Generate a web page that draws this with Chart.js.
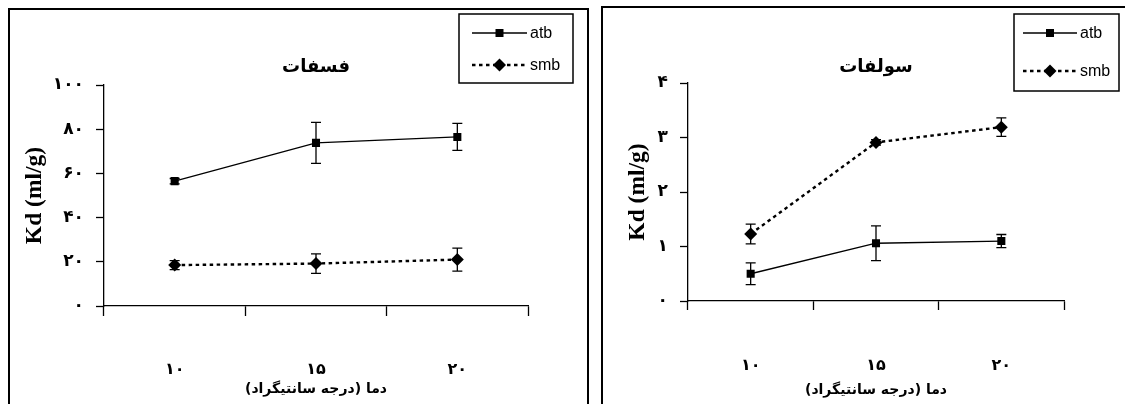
<!DOCTYPE html>
<html>
<head>
<meta charset="utf-8">
<script src="https://cdn.jsdelivr.net/npm/chart.js@4.4.0/dist/chart.umd.min.js"></script>
<style>
  body { margin: 0; background: #fff; width: 1125px; height: 404px; overflow: hidden; position: relative; }
  .frame { position: absolute; border: 2px solid #000; box-sizing: border-box; }
  #f1 { left: 8px; top: 8px; width: 581px; height: 420px; }
  #f2 { left: 601px; top: 6px; width: 540px; height: 420px; }
  canvas { position: absolute; top: 0; }
  #c1 { left: 0; }
  #c2 { left: 595px; }
</style>
</head>
<body>
<div class="frame" id="f1"></div>
<div class="frame" id="f2"></div>
<canvas id="c1" width="595" height="404"></canvas>
<canvas id="c2" width="530" height="404"></canvas>
<script>
// ==== Data ====
const categories = ["۱۰", "۱۵", "۲۰"];
const seriesNames = ["atb", "smb"];

// phosphate
const phosAtb = [56.5, 73.8, 76.5];
const phosAtbErr = [1.2, 9.3, 6.1];
const phosSmb = [18.5, 19.2, 21.0];
const phosSmbErr = [2.0, 4.4, 5.2];
const phosTicks = ["۰", "۲۰", "۴۰", "۶۰", "۸۰", "۱۰۰"];

// sulfate
const sulfAtb = [0.50, 1.06, 1.10];
const sulfAtbErr = [0.20, 0.32, 0.12];
const sulfSmb = [1.23, 2.91, 3.19];
const sulfSmbErr = [0.18, 0.05, 0.17];
const sulfTicks = ["۰", "۱", "۲", "۳", "۴"];

const xTitle = "\u200Fدما (درجه سانتیگراد)\u200F";
const yTitle = "Kd (ml/g)";
const FA = "'DejaVu Sans', sans-serif";

// ==== Plugins ====
const errorBars = {
  id: "errorBars",
  afterDatasetsDraw(chart) {
    const { ctx } = chart;
    const y = chart.scales.y;
    chart.data.datasets.forEach((ds, i) => {
      chart.getDatasetMeta(i).data.forEach((pt, j) => {
        const e = ds.errors[j];
        const top = y.getPixelForValue(ds.data[j] + e);
        const bot = y.getPixelForValue(ds.data[j] - e);
        ctx.save();
        ctx.strokeStyle = "#000";
        ctx.lineWidth = 1.3;
        ctx.beginPath();
        ctx.moveTo(pt.x, top); ctx.lineTo(pt.x, bot);
        ctx.moveTo(pt.x - 5, top); ctx.lineTo(pt.x + 5, top);
        ctx.moveTo(pt.x - 5, bot); ctx.lineTo(pt.x + 5, bot);
        ctx.stroke();
        ctx.restore();
      });
    });
  }
};

// boxed legend with line + marker samples
const boxLegend = {
  id: "boxLegend",
  afterDraw(chart, args, o) {
    const { ctx } = chart;
    ctx.save();
    ctx.strokeStyle = "#000";
    ctx.lineWidth = 1.5;
    ctx.strokeRect(o.x, o.y, o.w, o.h);
    chart.data.datasets.forEach((ds, i) => {
      const ry = o.rows[i];
      ctx.beginPath();
      ctx.lineWidth = ds.borderWidth;
      ctx.setLineDash(ds.borderDash || []);
      ctx.moveTo(o.lineX0, ry); ctx.lineTo(o.lineX1, ry);
      ctx.stroke();
      ctx.setLineDash([]);
      const mx = (o.lineX0 + o.lineX1) / 2;
      ctx.fillStyle = "#000";
      ctx.beginPath();
      if (ds.pointStyle === "rect") {
        ctx.rect(mx - 4, ry - 4, 8, 8);
      } else {
        ctx.moveTo(mx, ry - 6.5); ctx.lineTo(mx + 6.5, ry);
        ctx.lineTo(mx, ry + 6.5); ctx.lineTo(mx - 6.5, ry);
        ctx.closePath();
      }
      ctx.fill();
      ctx.font = "16px 'Liberation Sans', Arial, sans-serif";
      ctx.textBaseline = "middle";
      ctx.textAlign = "left";
      ctx.fillText(ds.label, o.lineX1 + 3, ry + 1);
    });
    ctx.restore();
  }
};

// ==== Chart builder ====
function makeChart(id, cfg) {
  const datasets = [
    { label: seriesNames[0], data: cfg.atb, errors: cfg.atbErr, borderColor: "#000", backgroundColor: "#000",
      borderWidth: 1.3, pointStyle: "rect", pointRadius: 5.7, pointBorderWidth: 0, tension: 0 },
    { label: seriesNames[1], data: cfg.smb, errors: cfg.smbErr, borderColor: "#000", backgroundColor: "#000",
      borderWidth: 2.4, borderDash: [3.5, 3.5], pointStyle: "rectRot", pointRadius: 6.5, pointBorderWidth: 0, tension: 0 }
  ];
  return new Chart(document.getElementById(id), {
    type: "line",
    data: { labels: categories, datasets },
    plugins: [errorBars, boxLegend],
    options: {
      responsive: false,
      animation: false,
      layout: { padding: { left: cfg.padLeft, right: cfg.padRight, top: 0, bottom: cfg.padBottom } },
      plugins: {
        legend: { display: false },
        tooltip: { enabled: false },
        title: {
          display: true, text: cfg.title, fullSize: false, color: "#000",
          font: { family: FA, size: 18, weight: "bold" },
          padding: { top: 57, bottom: cfg.titleBottom }
        },
        boxLegend: cfg.legend
      },
      scales: {
        x: {
          offset: true,
          grid: { offset: true, drawOnChartArea: false, tickLength: cfg.xTick, color: "#000", tickWidth: 1.3 },
          border: { color: "#000", width: 1.3 },
          ticks: { color: "#000", padding: cfg.xPad, font: { family: FA, size: 16, weight: "bold" } },
          title: { display: true, text: xTitle, color: "#000", padding: { top: 0, bottom: 0 },
                   font: { family: FA, size: 14, weight: "bold" } },
          afterFit: (s) => { s.height = cfg.xHeight; }
        },
        y: {
          min: 0, max: cfg.max,
          grid: { drawOnChartArea: false, tickLength: 8, color: "#000", tickWidth: 1.3 },
          border: { color: "#000", width: 1.3 },
          ticks: { stepSize: cfg.step, color: "#000", padding: 12,
                   font: { family: FA, size: 17, weight: "bold" },
                   callback: (v, i) => cfg.ticks[i] },
          title: { display: true, text: yTitle, color: "#000", padding: { top: 0, bottom: 0 },
                   font: { family: "'Liberation Serif', 'Times New Roman', serif", size: 23.5, weight: "bold" } },
          afterFit: (s) => { s.width = cfg.yWidth; }
        }
      }
    }
  });
}

makeChart("c1", {
  title: "فسفات", atb: phosAtb, atbErr: phosAtbErr, smb: phosSmb, smbErr: phosSmbErr,
  ticks: phosTicks, max: 100, step: 20,
  padLeft: 20.5, yWidth: 83.5, padRight: 67, padBottom: 6.6, xHeight: 91.4,
  xTick: 10, xPad: 44.4, titleBottom: 6.4,
  legend: { x: 459, y: 14, w: 114, h: 69, rows: [33, 65], lineX0: 472, lineX1: 527 }
});

makeChart("c2", {
  title: "سولفات", atb: sulfAtb, atbErr: sulfAtbErr, smb: sulfSmb, smbErr: sulfSmbErr,
  ticks: sulfTicks, max: 4, step: 1,
  padLeft: 29, yWidth: 64, padRight: 61, padBottom: 5.6, xHeight: 97.4,
  xTick: 9, xPad: 46.4, titleBottom: 4.4,
  legend: { x: 419, y: 14, w: 105, h: 77, rows: [33, 71], lineX0: 428, lineX1: 482 }
});
</script>
</body>
</html>
